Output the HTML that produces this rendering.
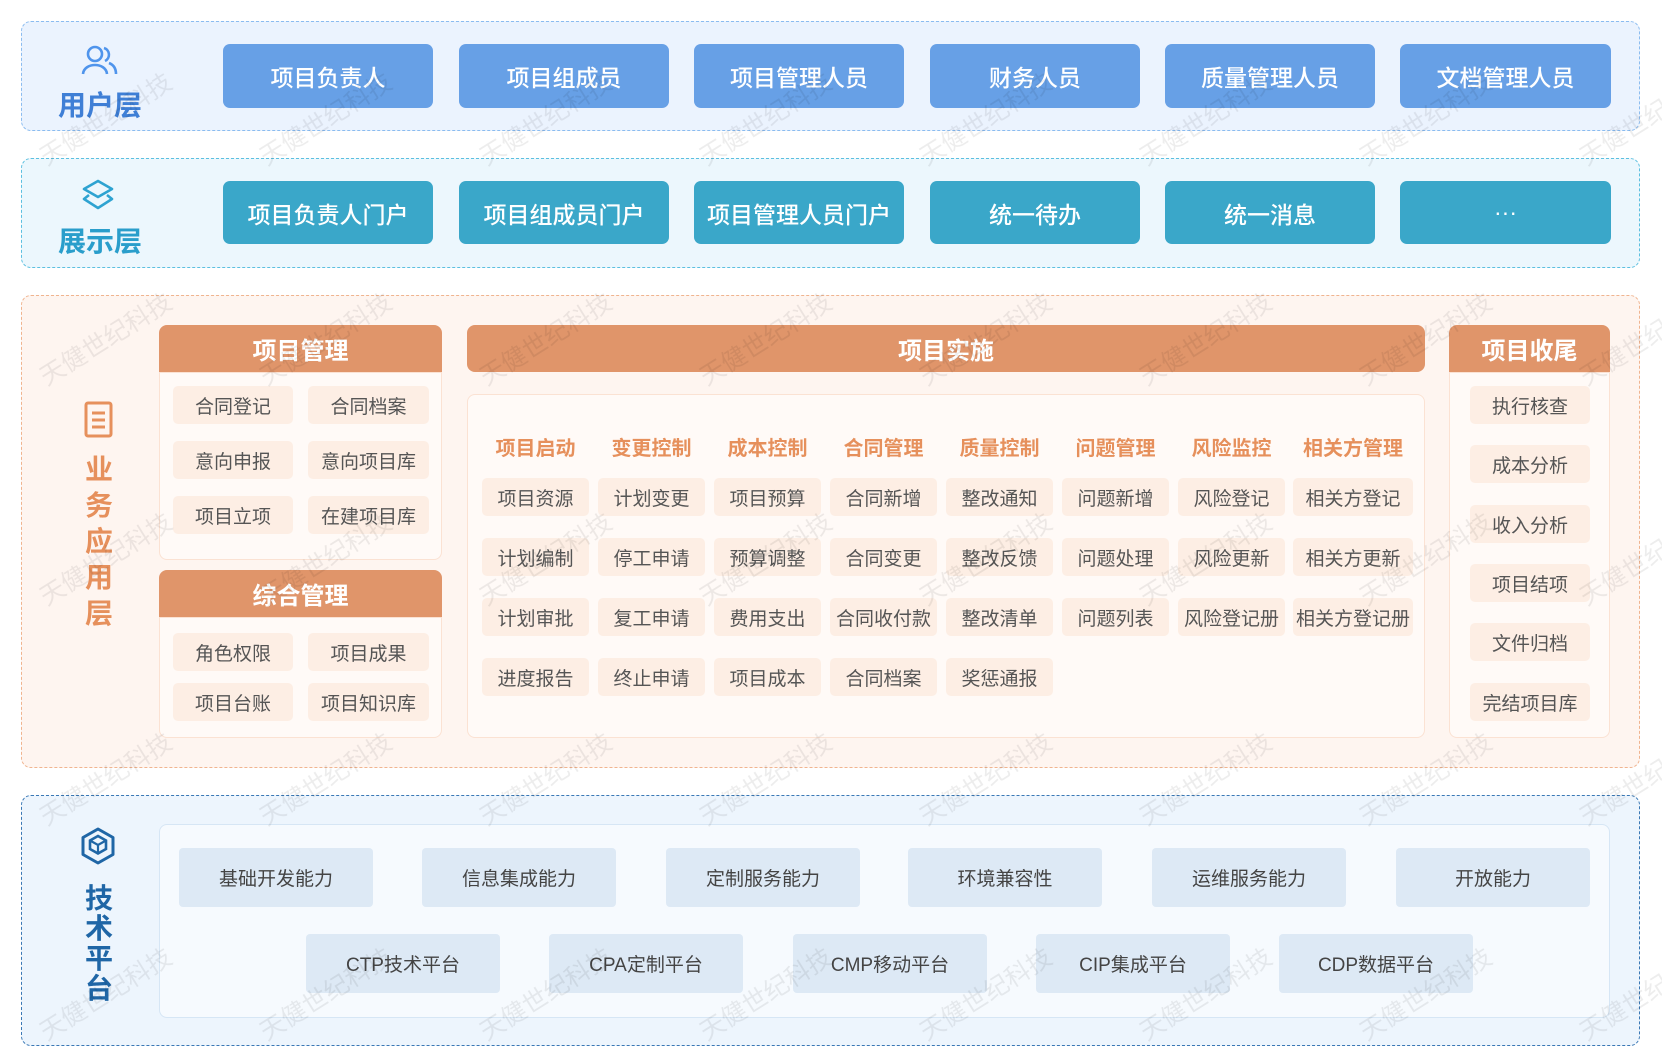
<!DOCTYPE html>
<html><head><meta charset="utf-8"><style>
*{margin:0;padding:0;box-sizing:border-box}
body{width:1662px;height:1047px;background:#fff;position:relative;overflow:hidden;font-family:"Liberation Sans","Noto Sans CJK SC",sans-serif}
.a{position:absolute}
.box{position:absolute;border-radius:10px;border:1.5px dashed}
.btn{position:absolute;display:flex;align-items:center;justify-content:center;border-radius:7px;color:#fff;font-size:23px;font-weight:500}
.c{position:absolute;display:flex;align-items:center;justify-content:center;border-radius:5px;background:#fdeee4;color:#555;font-size:19px}
.hd{position:absolute;display:flex;align-items:center;justify-content:center;background:#e0956a;color:#fff;font-size:24px;font-weight:bold;border-radius:8px 8px 0 0}
.pn{position:absolute;background:#fffaf7;border:1.5px solid #fbe2d3;border-radius:0 0 8px 8px}
.t{position:absolute;display:flex;align-items:center;justify-content:center;border-radius:4px;background:#dde9f5;color:#444;font-size:19px}
.tt{position:absolute;color:#e6905c;font-size:20px;font-weight:bold;text-align:center}
.lbl{position:absolute;font-weight:bold;font-size:28px;text-align:center}
.v{position:absolute;font-weight:bold;font-size:28px;line-height:36px;width:40px;text-align:center}
.wm{position:absolute;font-size:25px;color:rgba(0,0,0,0.07);transform:rotate(-32deg);white-space:nowrap;pointer-events:none}
</style></head><body>

<div class="box" style="left:21px;top:21px;width:1619px;height:110px;background:#ebf3fe;border-color:#8bbcf0"></div>
<svg class="a" style="left:80px;top:44px" width="40" height="34" viewBox="0 0 40 34"><circle cx="15" cy="10" r="7" fill="none" stroke="#4f94ec" stroke-width="2.6"/><path d="M3 30 C4 18,26 18,27 30" fill="none" stroke="#4f94ec" stroke-width="2.6"/><path d="M24 4 A7 7 0 0 1 25 17" fill="none" stroke="#4f94ec" stroke-width="2.6"/><path d="M29 19 C34 21,36 25,36 30" fill="none" stroke="#4f94ec" stroke-width="2.6"/></svg>
<div class="lbl" style="left:40px;top:84px;width:120px;color:#3f7fd6">用户层</div>
<div class="btn" style="left:223px;top:44px;width:210px;height:64px;background:#67a0e6">项目负责人</div>
<div class="btn" style="left:459px;top:44px;width:210px;height:64px;background:#67a0e6">项目组成员</div>
<div class="btn" style="left:694px;top:44px;width:210px;height:64px;background:#67a0e6">项目管理人员</div>
<div class="btn" style="left:930px;top:44px;width:210px;height:64px;background:#67a0e6">财务人员</div>
<div class="btn" style="left:1165px;top:44px;width:210px;height:64px;background:#67a0e6">质量管理人员</div>
<div class="btn" style="left:1400px;top:44px;width:211px;height:64px;background:#67a0e6">文档管理人员</div>

<div class="box" style="left:21px;top:158px;width:1619px;height:110px;background:#ecf7fd;border-color:#5cc0e0"></div>
<svg class="a" style="left:80px;top:178px" width="36" height="36" viewBox="0 0 36 36"><path d="M18 3 L32 11 L18 19 L4 11 Z" fill="none" stroke="#2ea3d1" stroke-width="2.6" stroke-linejoin="round"/><path d="M9 17 L4 21 L18 30 L32 21 L27 17" fill="none" stroke="#2ea3d1" stroke-width="2.6" stroke-linejoin="round"/></svg>
<div class="lbl" style="left:40px;top:220px;width:120px;color:#2a9ecb">展示层</div>
<div class="btn" style="left:223px;top:181px;width:210px;height:63px;background:#3aa7c9">项目负责人门户</div>
<div class="btn" style="left:459px;top:181px;width:210px;height:63px;background:#3aa7c9">项目组成员门户</div>
<div class="btn" style="left:694px;top:181px;width:210px;height:63px;background:#3aa7c9">项目管理人员门户</div>
<div class="btn" style="left:930px;top:181px;width:210px;height:63px;background:#3aa7c9">统一待办</div>
<div class="btn" style="left:1165px;top:181px;width:210px;height:63px;background:#3aa7c9">统一消息</div>
<div class="btn" style="left:1400px;top:181px;width:211px;height:63px;background:#3aa7c9">···</div>

<div class="box" style="left:21px;top:295px;width:1619px;height:473px;background:#fef5f0;border-color:#f0b48f"></div>
<svg class="a" style="left:84px;top:401px" width="30" height="37" viewBox="0 0 30 37"><rect x="2" y="2" width="25" height="33" rx="2" fill="none" stroke="#e6905c" stroke-width="3"/><path d="M8 12 H21 M8 19 H21 M8 26 H21" stroke="#e6905c" stroke-width="3"/></svg>
<div class="v" style="left:79px;top:452px;color:#e6905c">业<br>务<br>应<br>用<br>层</div>

<div class="hd" style="left:159px;top:325px;width:283px;height:47px">项目管理</div>
<div class="pn" style="left:159px;top:372px;width:283px;height:188px"></div>
<div class="c" style="left:173px;top:386px;width:120px;height:38px">合同登记</div>
<div class="c" style="left:308px;top:386px;width:121px;height:38px">合同档案</div>
<div class="c" style="left:173px;top:441px;width:120px;height:38px">意向申报</div>
<div class="c" style="left:308px;top:441px;width:121px;height:38px">意向项目库</div>
<div class="c" style="left:173px;top:496px;width:120px;height:38px">项目立项</div>
<div class="c" style="left:308px;top:496px;width:121px;height:38px">在建项目库</div>

<div class="hd" style="left:159px;top:570px;width:283px;height:47px">综合管理</div>
<div class="pn" style="left:159px;top:617px;width:283px;height:121px"></div>
<div class="c" style="left:173px;top:633px;width:120px;height:38px">角色权限</div>
<div class="c" style="left:308px;top:633px;width:121px;height:38px">项目成果</div>
<div class="c" style="left:173px;top:683px;width:120px;height:38px">项目台账</div>
<div class="c" style="left:308px;top:683px;width:121px;height:38px">项目知识库</div>

<div class="hd" style="left:467px;top:325px;width:958px;height:47px;border-radius:8px">项目实施</div>
<div class="a" style="left:467px;top:394px;width:958px;height:344px;background:#fffaf7;border:1.5px solid #fbe2d3;border-radius:8px"></div>

<div class="tt" style="left:482px;top:432px;width:107px">项目启动</div>
<div class="tt" style="left:598px;top:432px;width:107px">变更控制</div>
<div class="tt" style="left:714px;top:432px;width:107px">成本控制</div>
<div class="tt" style="left:830px;top:432px;width:107px">合同管理</div>
<div class="tt" style="left:946px;top:432px;width:107px">质量控制</div>
<div class="tt" style="left:1062px;top:432px;width:107px">问题管理</div>
<div class="tt" style="left:1178px;top:432px;width:107px">风险监控</div>
<div class="tt" style="left:1293px;top:432px;width:120px">相关方管理</div>

<div class="c" style="left:482px;top:478px;width:107px;height:38px">项目资源</div>
<div class="c" style="left:598px;top:478px;width:107px;height:38px">计划变更</div>
<div class="c" style="left:714px;top:478px;width:107px;height:38px">项目预算</div>
<div class="c" style="left:830px;top:478px;width:107px;height:38px">合同新增</div>
<div class="c" style="left:946px;top:478px;width:107px;height:38px">整改通知</div>
<div class="c" style="left:1062px;top:478px;width:107px;height:38px">问题新增</div>
<div class="c" style="left:1178px;top:478px;width:107px;height:38px">风险登记</div>
<div class="c" style="left:1293px;top:478px;width:120px;height:38px">相关方登记</div>

<div class="c" style="left:482px;top:538px;width:107px;height:38px">计划编制</div>
<div class="c" style="left:598px;top:538px;width:107px;height:38px">停工申请</div>
<div class="c" style="left:714px;top:538px;width:107px;height:38px">预算调整</div>
<div class="c" style="left:830px;top:538px;width:107px;height:38px">合同变更</div>
<div class="c" style="left:946px;top:538px;width:107px;height:38px">整改反馈</div>
<div class="c" style="left:1062px;top:538px;width:107px;height:38px">问题处理</div>
<div class="c" style="left:1178px;top:538px;width:107px;height:38px">风险更新</div>
<div class="c" style="left:1293px;top:538px;width:120px;height:38px">相关方更新</div>

<div class="c" style="left:482px;top:598px;width:107px;height:38px">计划审批</div>
<div class="c" style="left:598px;top:598px;width:107px;height:38px">复工申请</div>
<div class="c" style="left:714px;top:598px;width:107px;height:38px">费用支出</div>
<div class="c" style="left:830px;top:598px;width:107px;height:38px">合同收付款</div>
<div class="c" style="left:946px;top:598px;width:107px;height:38px">整改清单</div>
<div class="c" style="left:1062px;top:598px;width:107px;height:38px">问题列表</div>
<div class="c" style="left:1178px;top:598px;width:107px;height:38px">风险登记册</div>
<div class="c" style="left:1293px;top:598px;width:120px;height:38px">相关方登记册</div>

<div class="c" style="left:482px;top:658px;width:107px;height:38px">进度报告</div>
<div class="c" style="left:598px;top:658px;width:107px;height:38px">终止申请</div>
<div class="c" style="left:714px;top:658px;width:107px;height:38px">项目成本</div>
<div class="c" style="left:830px;top:658px;width:107px;height:38px">合同档案</div>
<div class="c" style="left:946px;top:658px;width:107px;height:38px">奖惩通报</div>

<div class="hd" style="left:1449px;top:325px;width:161px;height:47px">项目收尾</div>
<div class="pn" style="left:1449px;top:372px;width:161px;height:366px"></div>
<div class="c" style="left:1470px;top:386px;width:120px;height:38px">执行核查</div>
<div class="c" style="left:1470px;top:445px;width:120px;height:38px">成本分析</div>
<div class="c" style="left:1470px;top:505px;width:120px;height:38px">收入分析</div>
<div class="c" style="left:1470px;top:564px;width:120px;height:38px">项目结项</div>
<div class="c" style="left:1470px;top:623px;width:120px;height:38px">文件归档</div>
<div class="c" style="left:1470px;top:683px;width:120px;height:38px">完结项目库</div>

<div class="box" style="left:21px;top:795px;width:1619px;height:251px;background:#edf5fd;border-color:#3a78b5"></div>
<svg class="a" style="left:80px;top:827px" width="36" height="38" viewBox="0 0 36 38"><path d="M18 2 L33 10.5 L33 27.5 L18 36 L3 27.5 L3 10.5 Z" fill="none" stroke="#1f66a6" stroke-width="3" stroke-linejoin="round"/><path d="M18 9 L26 13.5 L26 22 L18 26.5 L10 22 L10 13.5 Z" fill="none" stroke="#1f66a6" stroke-width="2.6"/><path d="M10 13.5 L18 18 L26 13.5 M18 18 V26.5" fill="none" stroke="#1f66a6" stroke-width="2.2"/></svg>
<div class="v" style="left:79px;top:884px;color:#1f66a6;line-height:30px">技<br>术<br>平<br>台</div>
<div class="a" style="left:159px;top:824px;width:1451px;height:194px;background:#f6fafe;border:1.5px solid #d6e6f5;border-radius:8px"></div>
<div class="t" style="left:179px;top:848px;width:194px;height:59px">基础开发能力</div>
<div class="t" style="left:422px;top:848px;width:194px;height:59px">信息集成能力</div>
<div class="t" style="left:666px;top:848px;width:194px;height:59px">定制服务能力</div>
<div class="t" style="left:908px;top:848px;width:194px;height:59px">环境兼容性</div>
<div class="t" style="left:1152px;top:848px;width:194px;height:59px">运维服务能力</div>
<div class="t" style="left:1396px;top:848px;width:194px;height:59px">开放能力</div>
<div class="t" style="left:306px;top:934px;width:194px;height:59px">CTP技术平台</div>
<div class="t" style="left:549px;top:934px;width:194px;height:59px">CPA定制平台</div>
<div class="t" style="left:793px;top:934px;width:194px;height:59px">CMP移动平台</div>
<div class="t" style="left:1036px;top:934px;width:194px;height:59px">CIP集成平台</div>
<div class="t" style="left:1279px;top:934px;width:194px;height:59px">CDP数据平台</div>

<div class="wm" style="left:30px;top:100px">天健世纪科技</div>
<div class="wm" style="left:250px;top:100px">天健世纪科技</div>
<div class="wm" style="left:470px;top:100px">天健世纪科技</div>
<div class="wm" style="left:690px;top:100px">天健世纪科技</div>
<div class="wm" style="left:910px;top:100px">天健世纪科技</div>
<div class="wm" style="left:1130px;top:100px">天健世纪科技</div>
<div class="wm" style="left:1350px;top:100px">天健世纪科技</div>
<div class="wm" style="left:1570px;top:100px">天健世纪科技</div>
<div class="wm" style="left:30px;top:320px">天健世纪科技</div>
<div class="wm" style="left:250px;top:320px">天健世纪科技</div>
<div class="wm" style="left:470px;top:320px">天健世纪科技</div>
<div class="wm" style="left:690px;top:320px">天健世纪科技</div>
<div class="wm" style="left:910px;top:320px">天健世纪科技</div>
<div class="wm" style="left:1130px;top:320px">天健世纪科技</div>
<div class="wm" style="left:1350px;top:320px">天健世纪科技</div>
<div class="wm" style="left:1570px;top:320px">天健世纪科技</div>
<div class="wm" style="left:30px;top:540px">天健世纪科技</div>
<div class="wm" style="left:250px;top:540px">天健世纪科技</div>
<div class="wm" style="left:470px;top:540px">天健世纪科技</div>
<div class="wm" style="left:690px;top:540px">天健世纪科技</div>
<div class="wm" style="left:910px;top:540px">天健世纪科技</div>
<div class="wm" style="left:1130px;top:540px">天健世纪科技</div>
<div class="wm" style="left:1350px;top:540px">天健世纪科技</div>
<div class="wm" style="left:1570px;top:540px">天健世纪科技</div>
<div class="wm" style="left:30px;top:760px">天健世纪科技</div>
<div class="wm" style="left:250px;top:760px">天健世纪科技</div>
<div class="wm" style="left:470px;top:760px">天健世纪科技</div>
<div class="wm" style="left:690px;top:760px">天健世纪科技</div>
<div class="wm" style="left:910px;top:760px">天健世纪科技</div>
<div class="wm" style="left:1130px;top:760px">天健世纪科技</div>
<div class="wm" style="left:1350px;top:760px">天健世纪科技</div>
<div class="wm" style="left:1570px;top:760px">天健世纪科技</div>
<div class="wm" style="left:30px;top:975px">天健世纪科技</div>
<div class="wm" style="left:250px;top:975px">天健世纪科技</div>
<div class="wm" style="left:470px;top:975px">天健世纪科技</div>
<div class="wm" style="left:690px;top:975px">天健世纪科技</div>
<div class="wm" style="left:910px;top:975px">天健世纪科技</div>
<div class="wm" style="left:1130px;top:975px">天健世纪科技</div>
<div class="wm" style="left:1350px;top:975px">天健世纪科技</div>
<div class="wm" style="left:1570px;top:975px">天健世纪科技</div>
</body></html>
